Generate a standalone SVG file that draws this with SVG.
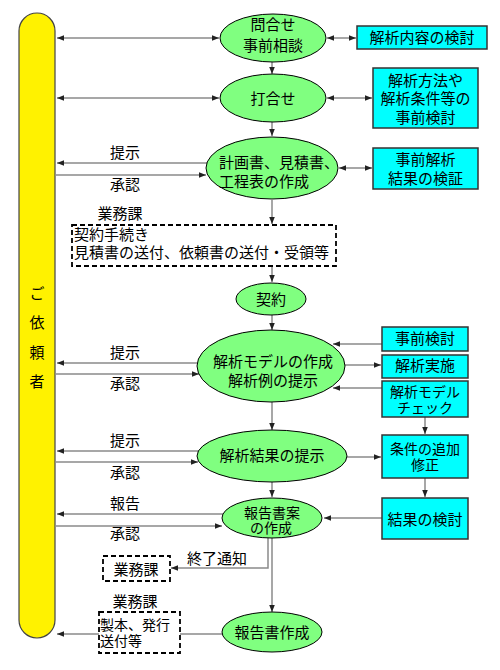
<svg xmlns="http://www.w3.org/2000/svg" width="500" height="670" viewBox="0 0 500 670">
<defs>
<style>
text{font-family:"Noto Sans CJK JP","Noto Sans CJK SC",sans-serif;font-size:15px;fill:#000}
.c{text-anchor:middle}
.s{font-size:14px}
.el{fill:#80ff80;stroke:#000;stroke-width:1}
.bx{fill:#00ffff;stroke:#333;stroke-width:1.5}
.dash{fill:#fff;stroke:#000;stroke-width:1.8;stroke-dasharray:5,3}
.ln{fill:none;stroke:#8a8a8a;stroke-width:1.5}
</style>
<marker id="a" viewBox="0 0 10 10" refX="10" refY="5" markerWidth="7" markerHeight="7" markerUnits="userSpaceOnUse" orient="auto-start-reverse">
<path d="M0,1 L10,5 L0,9 Z" fill="#222"/>
</marker>
</defs>
<rect width="500" height="670" fill="#fff"/>

<g id="connectors">
<line class="ln" x1="57" y1="38" x2="219" y2="38" marker-start="url(#a)" marker-end="url(#a)"/>
<line class="ln" x1="327" y1="38" x2="356" y2="38" marker-start="url(#a)" marker-end="url(#a)"/>
<line class="ln" x1="57" y1="98" x2="219" y2="98" marker-start="url(#a)" marker-end="url(#a)"/>
<line class="ln" x1="327" y1="98" x2="372" y2="98" marker-start="url(#a)" marker-end="url(#a)"/>
<line class="ln" x1="212" y1="163" x2="57" y2="163" marker-end="url(#a)"/>
<line class="ln" x1="56" y1="175" x2="206" y2="175" marker-end="url(#a)"/>
<line class="ln" x1="339" y1="168" x2="372" y2="168" marker-start="url(#a)" marker-end="url(#a)"/>
<line class="ln" x1="272" y1="62" x2="272" y2="74" marker-end="url(#a)"/>
<line class="ln" x1="272" y1="122" x2="272" y2="136" marker-end="url(#a)"/>
<line class="ln" x1="272" y1="200" x2="272" y2="224" marker-end="url(#a)"/>
<line class="ln" x1="272" y1="266" x2="272" y2="282" marker-end="url(#a)"/>
<line class="ln" x1="272" y1="315" x2="272" y2="330" marker-end="url(#a)"/>
<line class="ln" x1="272" y1="402" x2="272" y2="430" marker-end="url(#a)"/>
<line class="ln" x1="272" y1="482" x2="272" y2="497" marker-end="url(#a)"/>
<line class="ln" x1="272" y1="538" x2="272" y2="612" marker-end="url(#a)"/>
<line class="ln" x1="200" y1="363" x2="57" y2="363" marker-end="url(#a)"/>
<line class="ln" x1="56" y1="374" x2="199" y2="374" marker-end="url(#a)"/>
<line class="ln" x1="382" y1="344" x2="333" y2="344" marker-end="url(#a)"/>
<line class="ln" x1="345" y1="365" x2="381" y2="365" marker-end="url(#a)"/>
<line class="ln" x1="382" y1="388" x2="333" y2="388" marker-end="url(#a)"/>
<line class="ln" x1="425" y1="417" x2="425" y2="434" marker-end="url(#a)"/>
<line class="ln" x1="425" y1="478" x2="425" y2="497" marker-end="url(#a)"/>
<line class="ln" x1="347" y1="457" x2="381" y2="457" marker-end="url(#a)"/>
<line class="ln" x1="382" y1="518" x2="324" y2="518" marker-end="url(#a)"/>
<line class="ln" x1="199" y1="451" x2="57" y2="451" marker-end="url(#a)"/>
<line class="ln" x1="56" y1="462" x2="198" y2="462" marker-end="url(#a)"/>
<line class="ln" x1="224" y1="514" x2="57" y2="514" marker-end="url(#a)"/>
<line class="ln" x1="56" y1="526" x2="222" y2="526" marker-end="url(#a)"/>
<polyline class="ln" points="268,538 268,568 171,568" marker-end="url(#a)"/>
<line class="ln" x1="222" y1="634" x2="57" y2="634" marker-end="url(#a)"/>
</g>

<g id="client">
<rect x="19" y="13" width="36" height="625" rx="18" ry="18" fill="#fff200" stroke="#444" stroke-width="1.2"/>
<text class="c" x="37" y="299">ご</text>
<text class="c" x="37" y="328">依</text>
<text class="c" x="37" y="358">頼</text>
<text class="c" x="37" y="387">者</text>
</g>

<g id="n1"><ellipse class="el" cx="273" cy="38" rx="53" ry="24"/><text class="c"><tspan x="273" y="29.5">問合せ</tspan><tspan x="273" y="50.5">事前相談</tspan></text></g>
<g id="n2"><ellipse class="el" cx="273" cy="98" rx="53" ry="24"/><text class="c" x="273" y="103.5">打合せ</text></g>
<g id="n3"><ellipse class="el" cx="272" cy="168" rx="66" ry="31"/><text><tspan x="219" y="168">計画書、見積書、</tspan><tspan x="219" y="186.5">工程表の作成</tspan></text></g>
<g id="n4"><rect class="dash" x="72" y="225" width="264" height="41"/><text><tspan x="74" y="240">契約手続き</tspan><tspan x="74" y="258">見積書の送付、依頼書の送付・受領等</tspan></text></g>
<g id="n5"><ellipse class="el" cx="271" cy="299" rx="35" ry="16"/><text class="c" x="271" y="304.5">契約</text></g>
<g id="n6"><ellipse class="el" cx="271" cy="366" rx="74" ry="36"/><text class="c"><tspan x="273" y="366.5">解析モデルの作成</tspan><tspan x="273" y="385.5">解析例の提示</tspan></text></g>
<g id="n7"><ellipse class="el" cx="272" cy="456" rx="75" ry="26"/><text class="c" x="272" y="460.5">解析結果の提示</text></g>
<g id="n8"><ellipse class="el" cx="272" cy="518" rx="50" ry="20"/><text class="c s"><tspan x="272" y="517.5">報告書案</tspan><tspan x="271" y="533">の作成</tspan></text></g>
<g id="n9"><ellipse class="el" cx="272" cy="632" rx="50" ry="20"/><text class="c" x="272" y="638">報告書作成</text></g>

<g id="b1"><rect class="bx" x="357" y="26" width="130" height="23"/><text class="c" x="422" y="42.5">解析内容の検討</text></g>
<g id="b2"><rect class="bx" x="373" y="68" width="105" height="60"/><text class="c"><tspan x="425.5" y="85.5">解析方法や</tspan><tspan x="425.5" y="104">解析条件等の</tspan><tspan x="425.5" y="122.5">事前検討</tspan></text></g>
<g id="b3"><rect class="bx" x="373" y="148" width="105" height="41"/><text class="c"><tspan x="425.5" y="164.5">事前解析</tspan><tspan x="425.5" y="183.5">結果の検証</tspan></text></g>
<g id="b4"><rect class="bx" x="382" y="327" width="86" height="24"/><text class="c" x="425" y="344">事前検討</text></g>
<g id="b5"><rect class="bx" x="382" y="355" width="86" height="23"/><text class="c" x="425" y="371">解析実施</text></g>
<g id="b6"><rect class="bx" x="382" y="381" width="86" height="36"/><text class="c s"><tspan x="425" y="397">解析モデル</tspan><tspan x="425" y="413">チェック</tspan></text></g>
<g id="b7"><rect class="bx" x="382" y="435" width="86" height="43"/><text class="c s"><tspan x="425" y="454">条件の追加</tspan><tspan x="425" y="469.5">修正</tspan></text></g>
<g id="b8"><rect class="bx" x="382" y="498" width="86" height="41"/><text class="c" x="425" y="524.5">結果の検討</text></g>

<g id="d1"><rect class="dash" x="103" y="556" width="67" height="25"/><text class="c" x="136" y="574.5">業務課</text></g>
<g id="d2"><rect class="dash" x="99" y="612" width="81" height="41"/><text class="s"><tspan x="100" y="630">製本、発行</tspan><tspan x="100" y="645.5">送付等</tspan></text></g>

<g id="labels">
<text class="c" x="125" y="157.5">提示</text>
<text class="c" x="125" y="189.5">承認</text>
<text class="c" x="120" y="218.5">業務課</text>
<text class="c" x="125" y="357.5">提示</text>
<text class="c" x="125" y="388.5">承認</text>
<text class="c" x="125" y="445.5">提示</text>
<text class="c" x="125" y="477.5">承認</text>
<text class="c" x="125" y="508.5">報告</text>
<text class="c" x="125" y="538.5">承認</text>
<text x="187" y="563.5">終了通知</text>
<text class="c" x="135" y="606.5">業務課</text>
</g>
</svg>
